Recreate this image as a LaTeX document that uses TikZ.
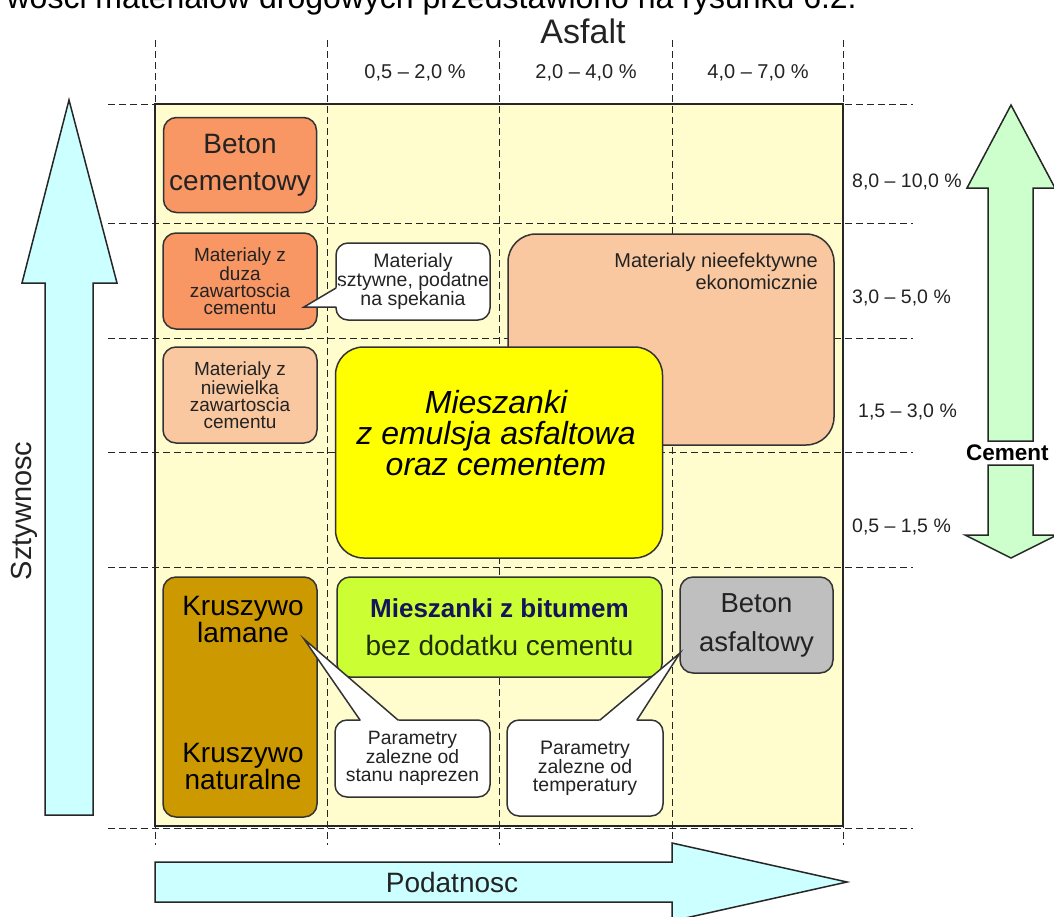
\documentclass[tikz,border=0pt]{standalone}
\usepackage{fontspec}
\setmainfont{Liberation Sans}
\usetikzlibrary{calc}
\definecolor{panelc}{RGB}{255,252,205}
\definecolor{orangec}{RGB}{248,150,100}
\definecolor{peachc}{RGB}{250,200,160}
\definecolor{yellowc}{RGB}{255,255,0}
\definecolor{greenc}{RGB}{204,255,51}
\definecolor{grayc}{RGB}{191,191,191}
\definecolor{brownc}{RGB}{204,153,0}
\definecolor{cyanc}{RGB}{204,255,255}
\definecolor{mintc}{RGB}{204,255,204}
\definecolor{navyc}{RGB}{20,20,90}
\definecolor{olivec}{RGB}{30,45,10}
\definecolor{inkc}{RGB}{35,35,35}
\newcommand\setfs[2]{\fontsize{#1}{#2}\selectfont}
\begin{document}
\begin{tikzpicture}[x=1pt,y=-1pt,
  gridline/.style={dash pattern=on 7pt off 4pt, line width=0.9pt, black!85},
  rbox/.style={draw=black!80, line width=1.5pt, rounded corners=13pt, inner sep=0pt, align=center, text=inkc},
  callout/.style={rbox, fill=white, rounded corners=12pt},
  pointerfill/.style={fill=white},
  pointeredge/.style={draw=black!80, line width=1.5pt, line cap=round},
  blockarrow/.style={draw=black!85, line width=1.5pt, line join=miter},
  lbl/.style={inner sep=0pt, text=inkc},
]
\useasboundingbox (0,0) rectangle (1054,916);
\fill[white] (0,0) rectangle (1054,916);

% cut-off running text at the top
\node[anchor=base east, inner sep=0pt, font=\setfs{32}{36}] (toptext) at (857,8) {wości materiałów drogowych przedstawiono na rysunku 6.2.};

% panel and grid
\fill[panelc] (155,104) rectangle (843,826);
\foreach \x in {155,327,499,672,843} \draw[gridline] (\x,40) -- (\x,845);
\foreach \y in {104,223,338,452,567,828} \draw[gridline] (108,\y) -- (913,\y);
\draw[line width=1.2pt, black!85] (155,104) rectangle (843,826);

% axis labels
\node[lbl, font=\setfs{34}{38}] (asfalt) at (583,31) {Asfalt};
\node[lbl, font=\setfs{20}{24}] (h1) at (415,73) {0,5 – 2,0 \%};
\node[lbl, font=\setfs{20}{24}] (h2) at (586,73) {2,0 – 4,0 \%};
\node[lbl, font=\setfs{20}{24}] (h3) at (758,73) {4,0 – 7,0 \%};

\node[lbl, anchor=west, font=\setfs{19.5}{24}] (r1) at (852,182) {8,0 – 10,0 \%};
\node[lbl, anchor=west, font=\setfs{19.5}{24}] (r2) at (852,298) {3,0 – 5,0 \%};
\node[lbl, anchor=west, font=\setfs{19.5}{24}] (r3) at (858,412) {1,5 – 3,0 \%};
\node[lbl, anchor=west, font=\setfs{19.5}{24}] (r4) at (852,527) {0,5 – 1,5 \%};

% boxes
\node[rbox, fill=orangec, minimum width=153pt, minimum height=95pt, font=\setfs{28}{37}] (betonc) at (240,165) {Beton\\cementowy};
\node[rbox, fill=orangec, minimum width=154pt, minimum height=96pt, font=\setfs{19}{17}] (duza) at (240,281) {Materialy z\\duza\\zawartoscia\\cementu};
\node[rbox, fill=peachc, minimum width=154pt, minimum height=96pt, font=\setfs{19}{17}] (niew) at (240,395) {Materialy z\\niewielka\\zawartoscia\\cementu};

\node[rbox, fill=peachc, rounded corners=28pt, minimum width=326pt, minimum height=211pt] (nieef) at (671,339.5) {};
\node[lbl, anchor=east, align=right, font=\setfs{20}{22}] (nieeftext) at (818,271) {Materialy nieefektywne\\ekonomicznie};

\node[rbox, fill=yellowc, rounded corners=28pt, minimum width=327pt, minimum height=211pt] (emul) at (499,452.5) {};
\node[lbl, align=center, text=black, font=\setfs{32}{31}\itshape] (emultext) at (496,433) {Mieszanki\\z emulsja asfaltowa\\oraz cementem};

\node[rbox, fill=greenc, minimum width=325pt, minimum height=100pt, font=\setfs{28}{38}, text=olivec] (bitum) at (499.5,627) {{\setfs{26}{38}\bfseries\color{navyc}Mieszanki z bitumem}\\bez dodatku cementu};

\node[rbox, fill=grayc, minimum width=153pt, minimum height=96pt, font=\setfs{27.5}{39}] (betona) at (756.5,625) {Beton\\asfaltowy};

\node[rbox, fill=brownc, minimum width=154pt, minimum height=240pt] (krusz) at (240,697) {};
\node[lbl, align=center, text=black, font=\setfs{28}{27}] (kruszl) at (243,619) {Kruszywo\\lamane};
\node[lbl, align=center, text=black, font=\setfs{28}{27}] (kruszn) at (243,766) {Kruszywo\\naturalne};

% callouts
\node[callout, minimum width=154pt, minimum height=77pt, font=\setfs{19.5}{17.5}] (c1) at (413,281.5) {Materialy\\sztywne, podatne\\na spekania};
\coordinate (t1) at (304,307);
\coordinate (a1) at (336,288);
\coordinate (b1) at (336,307);
\fill[pointerfill] (t1) -- ($(a1)!-6pt!(t1)$) -- ($(b1)!-6pt!(t1)$) -- cycle;
\draw[pointeredge] (a1) -- (t1) -- (b1);

\node[callout, minimum width=155pt, minimum height=77pt, font=\setfs{19.3}{17.5}] (c2) at (412.5,758.5) {Parametry\\zalezne od\\stanu naprezen};
\coordinate (t2) at (304,639);
\coordinate (a2) at (360,720);
\coordinate (b2) at (398,720);
\fill[pointerfill] (t2) -- ($(a2)!-6pt!(t2)$) -- ($(b2)!-6pt!(t2)$) -- cycle;
\draw[pointeredge] (a2) -- (t2) -- (b2);

\node[callout, minimum width=156pt, minimum height=96pt, font=\setfs{19.5}{17.5}] (c3) at (585,768) {Parametry\\zalezne od\\temperatury};
\coordinate (t3) at (680,653);
\coordinate (a3) at (600,720);
\coordinate (b3) at (637,720);
\fill[pointerfill] (t3) -- ($(a3)!-6pt!(t3)$) -- ($(b3)!-6pt!(t3)$) -- cycle;
\draw[pointeredge] (a3) -- (t3) -- (b3);

% block arrows
\draw[blockarrow, fill=cyanc] (45,815) -- (45,283) -- (22,283) -- (69,100) -- (117,283) -- (93,283) -- (93,815) -- cycle;
\node[lbl, rotate=90, font=\setfs{29}{32}] (sztyw) at (24,511) {Sztywnosc};

\draw[blockarrow, fill=cyanc] (155,862) -- (672,862) -- (672,843) -- (847,882) -- (672,921) -- (672,902) -- (155,902) -- cycle;
\node[lbl, font=\setfs{28}{32}] (podat) at (452,882) {Podatnosc};

\draw[blockarrow, fill=mintc] (988,441) -- (988,188) -- (967,188) -- (1011,105) -- (1055,188) -- (1033,188) -- (1033,441) -- cycle;
\draw[blockarrow, fill=mintc] (988,465) -- (988,535) -- (965,535) -- (1011,558) -- (1057,535) -- (1033,535) -- (1033,465) -- cycle;
\node[lbl, anchor=west, font=\setfs{22.5}{26}\bfseries, text=black] (cement) at (966,453) {Cement};
\end{tikzpicture}
\end{document}
